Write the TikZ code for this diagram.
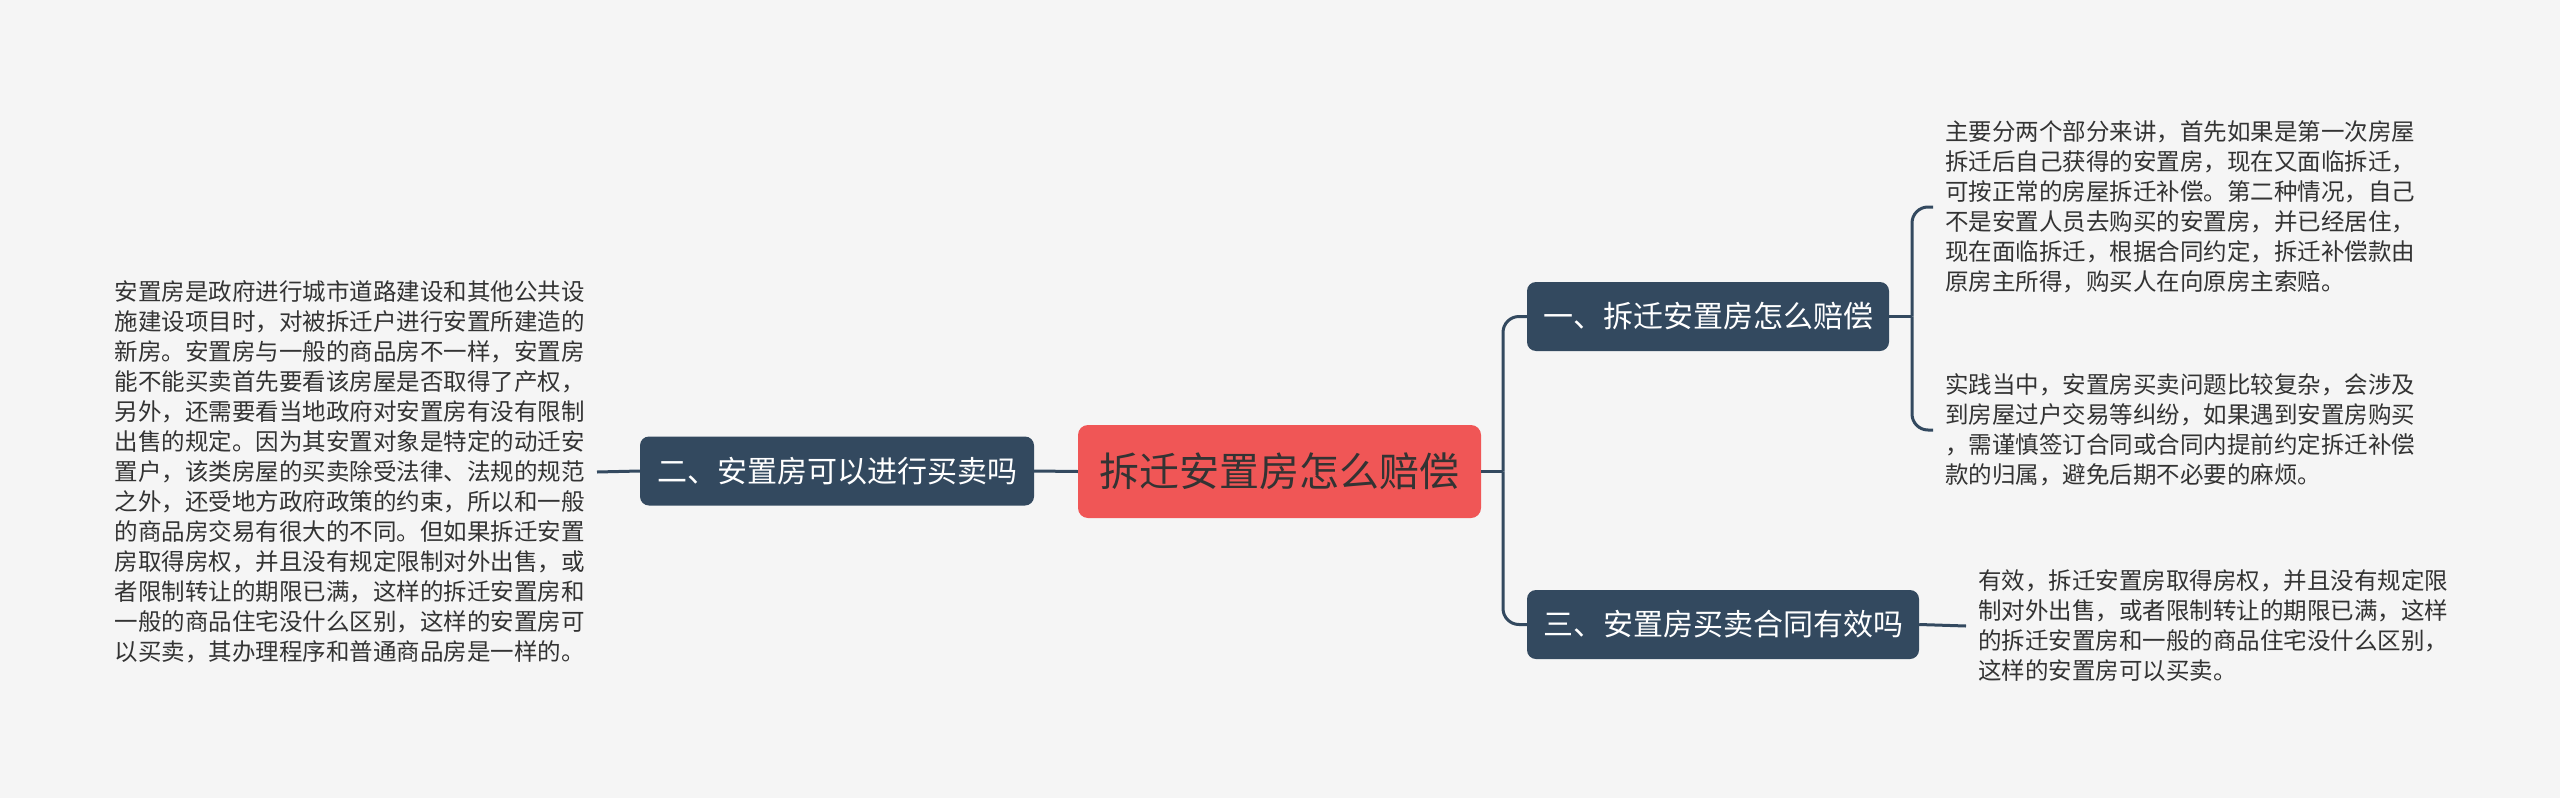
\documentclass[tikz,border=0pt]{standalone}
\usepackage{fontspec}
\setmainfont{Noto Sans CJK SC}
\definecolor{bg}{HTML}{F5F5F5}
\definecolor{navy}{HTML}{33495F}
\definecolor{rootred}{HTML}{F05656}
\definecolor{txt}{HTML}{333333}
\tikzset{
  conn/.style={draw=navy, line width=3pt},
  topic/.style={fill=navy, text=white, rounded corners=9pt, font=\fontsize{30}{36}\selectfont, inner sep=0pt, minimum height=69pt},
  rootnode/.style={fill=rootred, text=txt, rounded corners=10pt, font=\fontsize{40}{48}\selectfont, inner sep=0pt, minimum width=403pt, minimum height=93pt},
  note/.style={text=txt, font=\fontsize{23.5}{30}\selectfont, align=left, inner xsep=12pt, inner ysep=0pt}
}
\begin{document}
\begin{tikzpicture}[x=1pt,y=-1pt]
\fill[bg] (0,0) rectangle (2560,798);
\useasboundingbox (0,0) rectangle (2560,798);

\node[rootnode] (root) at (1279.5,471.5) {拆迁安置房怎么赔偿};
\node[topic, minimum width=394pt] (n2) at (837,471) {二、安置房可以进行买卖吗};
\node[topic, minimum width=362pt] (n1) at (1708,316.5) {一、拆迁安置房怎么赔偿};
\node[topic, minimum width=392pt] (n3) at (1723,624.5) {三、安置房买卖合同有效吗};

\node[note, anchor=east] (t0) at (597,472) {安置房是政府进行城市道路建设和其他公共设\\施建设项目时，对被拆迁户进行安置所建造的\\新房。安置房与一般的商品房不一样，安置房\\能不能买卖首先要看该房屋是否取得了产权，\\另外，还需要看当地政府对安置房有没有限制\\出售的规定。因为其安置对象是特定的动迁安\\置户，该类房屋的买卖除受法律、法规的规范\\之外，还受地方政府政策的约束，所以和一般\\的商品房交易有很大的不同。但如果拆迁安置\\房取得房权，并且没有规定限制对外出售，或\\者限制转让的期限已满，这样的拆迁安置房和\\一般的商品住宅没什么区别，这样的安置房可\\以买卖，其办理程序和普通商品房是一样的。};

\node[note, anchor=west] (t1) at (1933,207) {主要分两个部分来讲，首先如果是第一次房屋\\拆迁后自己获得的安置房，现在又面临拆迁，\\可按正常的房屋拆迁补偿。第二种情况，自己\\不是安置人员去购买的安置房，并已经居住，\\现在面临拆迁，根据合同约定，拆迁补偿款由\\原房主所得，购买人在向原房主索赔。};

\node[note, anchor=west] (t2) at (1933,430) {实践当中，安置房买卖问题比较复杂，会涉及\\到房屋过户交易等纠纷，如果遇到安置房购买\\，需谨慎签订合同或合同内提前约定拆迁补偿\\款的归属，避免后期不必要的麻烦。};

\node[note, anchor=west] (t3) at (1966,626) {有效，拆迁安置房取得房权，并且没有规定限\\制对外出售，或者限制转让的期限已满，这样\\的拆迁安置房和一般的商品住宅没什么区别，\\这样的安置房可以买卖。};

\coordinate (b) at (1503,471.5);
\coordinate (c1) at (1912,316.5);

\draw[conn] (root.west) -- (n2.east);
\draw[conn] (n2.west) -- (t0.east);
\draw[conn] (root.east) -- (b);
\draw[conn, rounded corners=16pt] (b) |- (n1.west);
\draw[conn, rounded corners=16pt] (b) |- (n3.west);
\draw[conn] (n1.east) -- (c1);
\draw[conn, rounded corners=16pt] (c1) |- (t1.west);
\draw[conn, rounded corners=16pt] (c1) |- (t2.west);
\draw[conn] (n3.east) -- (t3.west);
\end{tikzpicture}
\end{document}
